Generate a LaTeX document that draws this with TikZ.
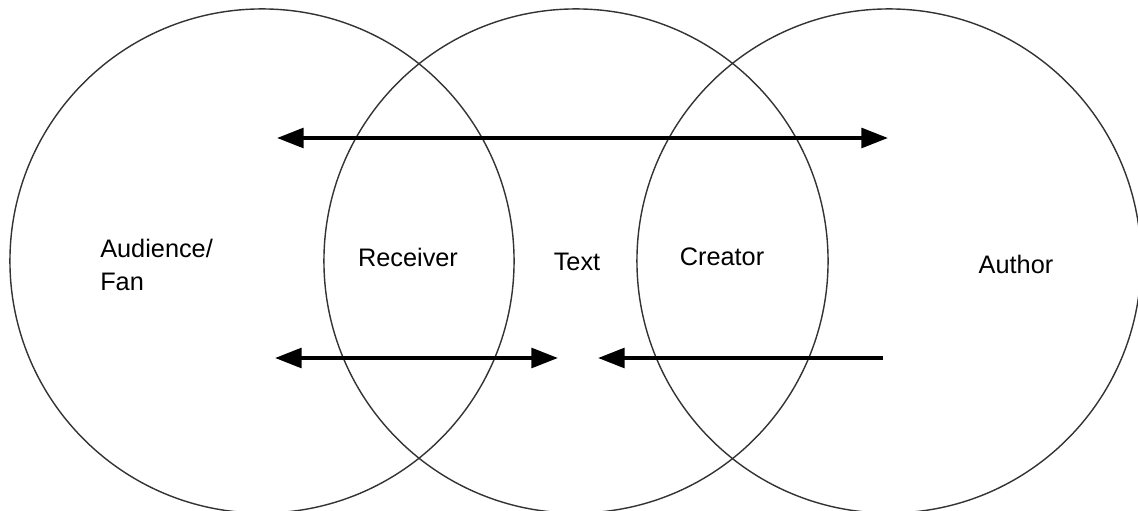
\documentclass[tikz,border=0pt]{standalone}
\usepackage{fontspec}
\setmainfont{Liberation Sans}
\usetikzlibrary{arrows.meta}

\begin{document}
\begin{tikzpicture}[x=0.025cm, y=-0.025cm,
    head/.tip={Triangle[length=19pt, width=14pt]},
    ring/.style={draw=black!80, line width=1pt},
    flow/.style={line width=2.8pt},
    tag/.style={font=\fontsize{18}{24}\selectfont, inner sep=0pt}]
    \useasboundingbox (0,0) rectangle (1138,511);
    % the three circles
    \coordinate (fan) at (262,261);
    \coordinate (text) at (576,261);
    \coordinate (author) at (889,261);
    \foreach \c in {fan,text,author}
        \draw[ring] (\c) circle [radius=6.3cm];
    % labels
    \node[tag, anchor=west, align=left] (audience) at (100,265) {Audience/\\Fan};
    \node[tag] (receiver) at (408,257) {Receiver};
    \node[tag] (textlabel) at (577,262) {Text};
    \node[tag] (creator) at (722,257) {Creator};
    \node[tag] (authorlabel) at (1016,264) {Author};
    % arrow ends
    \coordinate (topL) at (277,138);
    \coordinate (topR) at (888,138);
    \coordinate (lowL) at (275,358);
    \coordinate (lowM) at (558,358);
    \coordinate (lowN) at (598,358);
    \coordinate (lowR) at (883,358);
    \draw[flow, {head}-{head}] (topL) -- (topR);
    \draw[flow, {head}-{head}] (lowL) -- (lowM);
    \draw[flow, -{head}] (lowR) -- (lowN);
\end{tikzpicture}
\end{document}
